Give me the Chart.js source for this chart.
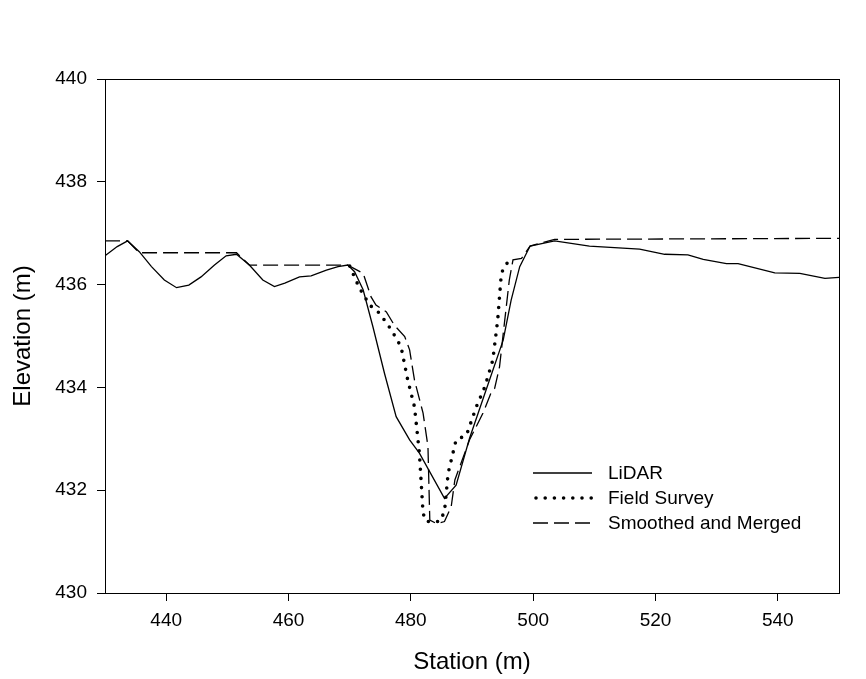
<!DOCTYPE html>
<html>
<head>
  <title>Station vs Elevation</title>
  <script src="https://cdn.jsdelivr.net/npm/chart.js"></script>
  <style>
    body { margin: 0; background: #fff; }
    canvas { display: block; }
  </style>
</head>
<body>
  <canvas id="chart" width="866" height="679"></canvas>

  <script>
    // Values
    const lidarStation = [430, 432.0, 433.7, 435.6, 437.6, 439.7, 441.7, 443.7, 445.7, 447.9, 449.8, 451.5,
      453.6, 455.8, 457.7, 459.4, 461.8, 463.7, 466.2, 468.1, 469.7, 470.8, 472.2, 473.8, 475.7, 477.6,
      479.8, 481.4, 485.5, 487.4, 489.6, 492.3, 495.1, 496.4, 497.8, 499.5, 503.5, 509.2, 517.4, 521.5,
      525.3, 527.8, 531.6, 533.5, 539.5, 543.6, 547.7, 550];
    const lidarElev = [436.56, 436.74, 436.85, 436.64, 436.35, 436.09, 435.94, 435.99, 436.15, 436.38, 436.56, 436.59,
      436.38, 436.09, 435.96, 436.03, 436.15, 436.17, 436.28, 436.35, 436.38, 436.25, 435.9, 435.18, 434.27, 433.43,
      432.98, 432.72, 431.84, 432.1, 433.01, 433.95, 434.92, 435.7, 436.35, 436.75, 436.85, 436.75, 436.69, 436.59,
      436.58, 436.49, 436.41, 436.41, 436.23, 436.22, 436.12, 436.14];

    const surveyStation = [470.0, 471.6, 473.3, 474.9, 476.8, 478.4, 479.5, 480.6, 481.4, 482.0, 482.5, 484.7,
      485.5, 486.1, 487.4, 489.1, 490.7, 492.1, 493.4, 494.2, 494.8, 495.6, 497.0];
    const surveyElev = [436.36, 435.93, 435.6, 435.44, 435.12, 434.79, 434.14, 433.62, 432.72, 431.55, 431.39, 431.39,
      431.58, 432.33, 432.98, 433.07, 433.62, 434.01, 434.53, 435.31, 436.22, 436.41, 436.45];

    const mergedStation = [430, 433.7, 435.6, 451.5, 453.6, 469.7, 472.2, 473.5, 474.3, 476.0, 477.3, 479.0,
      479.8, 480.6, 482.0, 482.8, 483.1, 484.2, 485.5, 486.6, 487.2, 489.6, 491.8, 493.2, 493.7, 494.5,
      495.3, 496.1, 496.7, 498.1, 499.5, 503.5, 550];
    const mergedElev = [436.85, 436.85, 436.62, 436.62, 436.38, 436.38, 436.22, 435.76, 435.6, 435.47, 435.21, 434.99,
      434.73, 434.14, 433.5, 432.85, 431.42, 431.35, 431.39, 431.68, 432.2, 432.98, 433.5, 433.92, 433.98, 434.4,
      435.25, 436.09, 436.48, 436.51, 436.75, 436.88, 436.9];

    const seriesNames = ['LiDAR', 'Field Survey', 'Smoothed and Merged'];
    const xTicks = [440, 460, 480, 500, 520, 540];
    const yTicks = [430, 432, 434, 436, 438, 440];

    const FONT = 'Liberation Sans, Arial, sans-serif';

    function toPoints(xs, ys) {
      return xs.map((x, i) => ({ x: x, y: ys[i] }));
    }

    // box around the plot (top and right sides)
    const framePlugin = {
      id: 'frame',
      afterDraw(chart) {
        const a = chart.chartArea;
        const ctx = chart.ctx;
        ctx.save();
        ctx.strokeStyle = '#000';
        ctx.lineWidth = 1;
        ctx.strokeRect(Math.round(a.left) + 0.5, Math.round(a.top) + 0.5,
          Math.round(a.right - a.left), Math.round(a.bottom - a.top));
        ctx.restore();
      }
    };

    // legend inside the plot, lower right
    const legendPlugin = {
      id: 'insideLegend',
      afterDraw(chart) {
        const ctx = chart.ctx;
        ctx.save();
        chart.data.datasets.forEach((ds, i) => {
          const y = 473 + i * 25;
          ctx.strokeStyle = ds.borderColor;
          ctx.lineWidth = ds.borderWidth;
          ctx.lineCap = ds.borderCapStyle || 'butt';
          ctx.setLineDash(ds.borderDash || []);
          ctx.beginPath();
          ctx.moveTo(ds.borderDash && ds.borderDash[0] === 0 ? 536 : 533, y);
          ctx.lineTo(592, y);
          ctx.stroke();
          ctx.setLineDash([]);
          ctx.fillStyle = '#000';
          ctx.font = '19px ' + FONT;
          ctx.textBaseline = 'middle';
          ctx.textAlign = 'left';
          ctx.fillText(ds.label, 608, y + 1);
        });
        ctx.restore();
      }
    };

    new Chart(document.getElementById('chart'), {
      type: 'line',
      data: {
        datasets: [
          {
            label: seriesNames[0],
            data: toPoints(lidarStation, lidarElev),
            borderColor: '#000',
            borderWidth: 1.3,
            pointRadius: 0,
            tension: 0
          },
          {
            label: seriesNames[1],
            data: toPoints(surveyStation, surveyElev),
            borderColor: '#000',
            borderWidth: 3.6,
            borderDash: [0, 9.2],
            borderCapStyle: 'round',
            pointRadius: 0,
            tension: 0
          },
          {
            label: seriesNames[2],
            data: toPoints(mergedStation, mergedElev),
            borderColor: '#000',
            borderWidth: 1.3,
            borderDash: [15, 6],
            pointRadius: 0,
            tension: 0
          }
        ]
      },
      options: {
        responsive: false,
        animation: false,
        layout: { padding: { left: 0, right: 27, top: 79, bottom: 0 } },
        plugins: {
          legend: { display: false },
          tooltip: { enabled: false }
        },
        scales: {
          x: {
            type: 'linear',
            min: 430,
            max: 550,
            afterBuildTicks: (scale) => { scale.ticks = xTicks.map(v => ({ value: v })); },
            afterFit: (scale) => { scale.height = 86; },
            grid: { drawOnChartArea: false, drawTicks: true, tickLength: 8, color: '#000' },
            border: { display: true, color: '#000', width: 1 },
            ticks: { color: '#000', font: { family: FONT, size: 19 }, padding: 8, maxRotation: 0 },
            title: {
              display: true,
              text: 'Station (m)',
              color: '#000',
              font: { family: FONT, size: 24 },
              padding: { top: 0, bottom: 2 }
            }
          },
          y: {
            type: 'linear',
            min: 430,
            max: 440,
            afterBuildTicks: (scale) => { scale.ticks = yTicks.map(v => ({ value: v })); },
            afterFit: (scale) => { scale.width = 105; },
            grid: { drawOnChartArea: false, drawTicks: true, tickLength: 8, color: '#000' },
            border: { display: true, color: '#000', width: 1 },
            ticks: { color: '#000', font: { family: FONT, size: 19 }, padding: 10 },
            title: {
              display: true,
              text: 'Elevation (m)',
              color: '#000',
              font: { family: FONT, size: 24 },
              padding: { top: 9, bottom: 0 }
            }
          }
        }
      },
      plugins: [framePlugin, legendPlugin]
    });
  </script>
</body>
</html>
